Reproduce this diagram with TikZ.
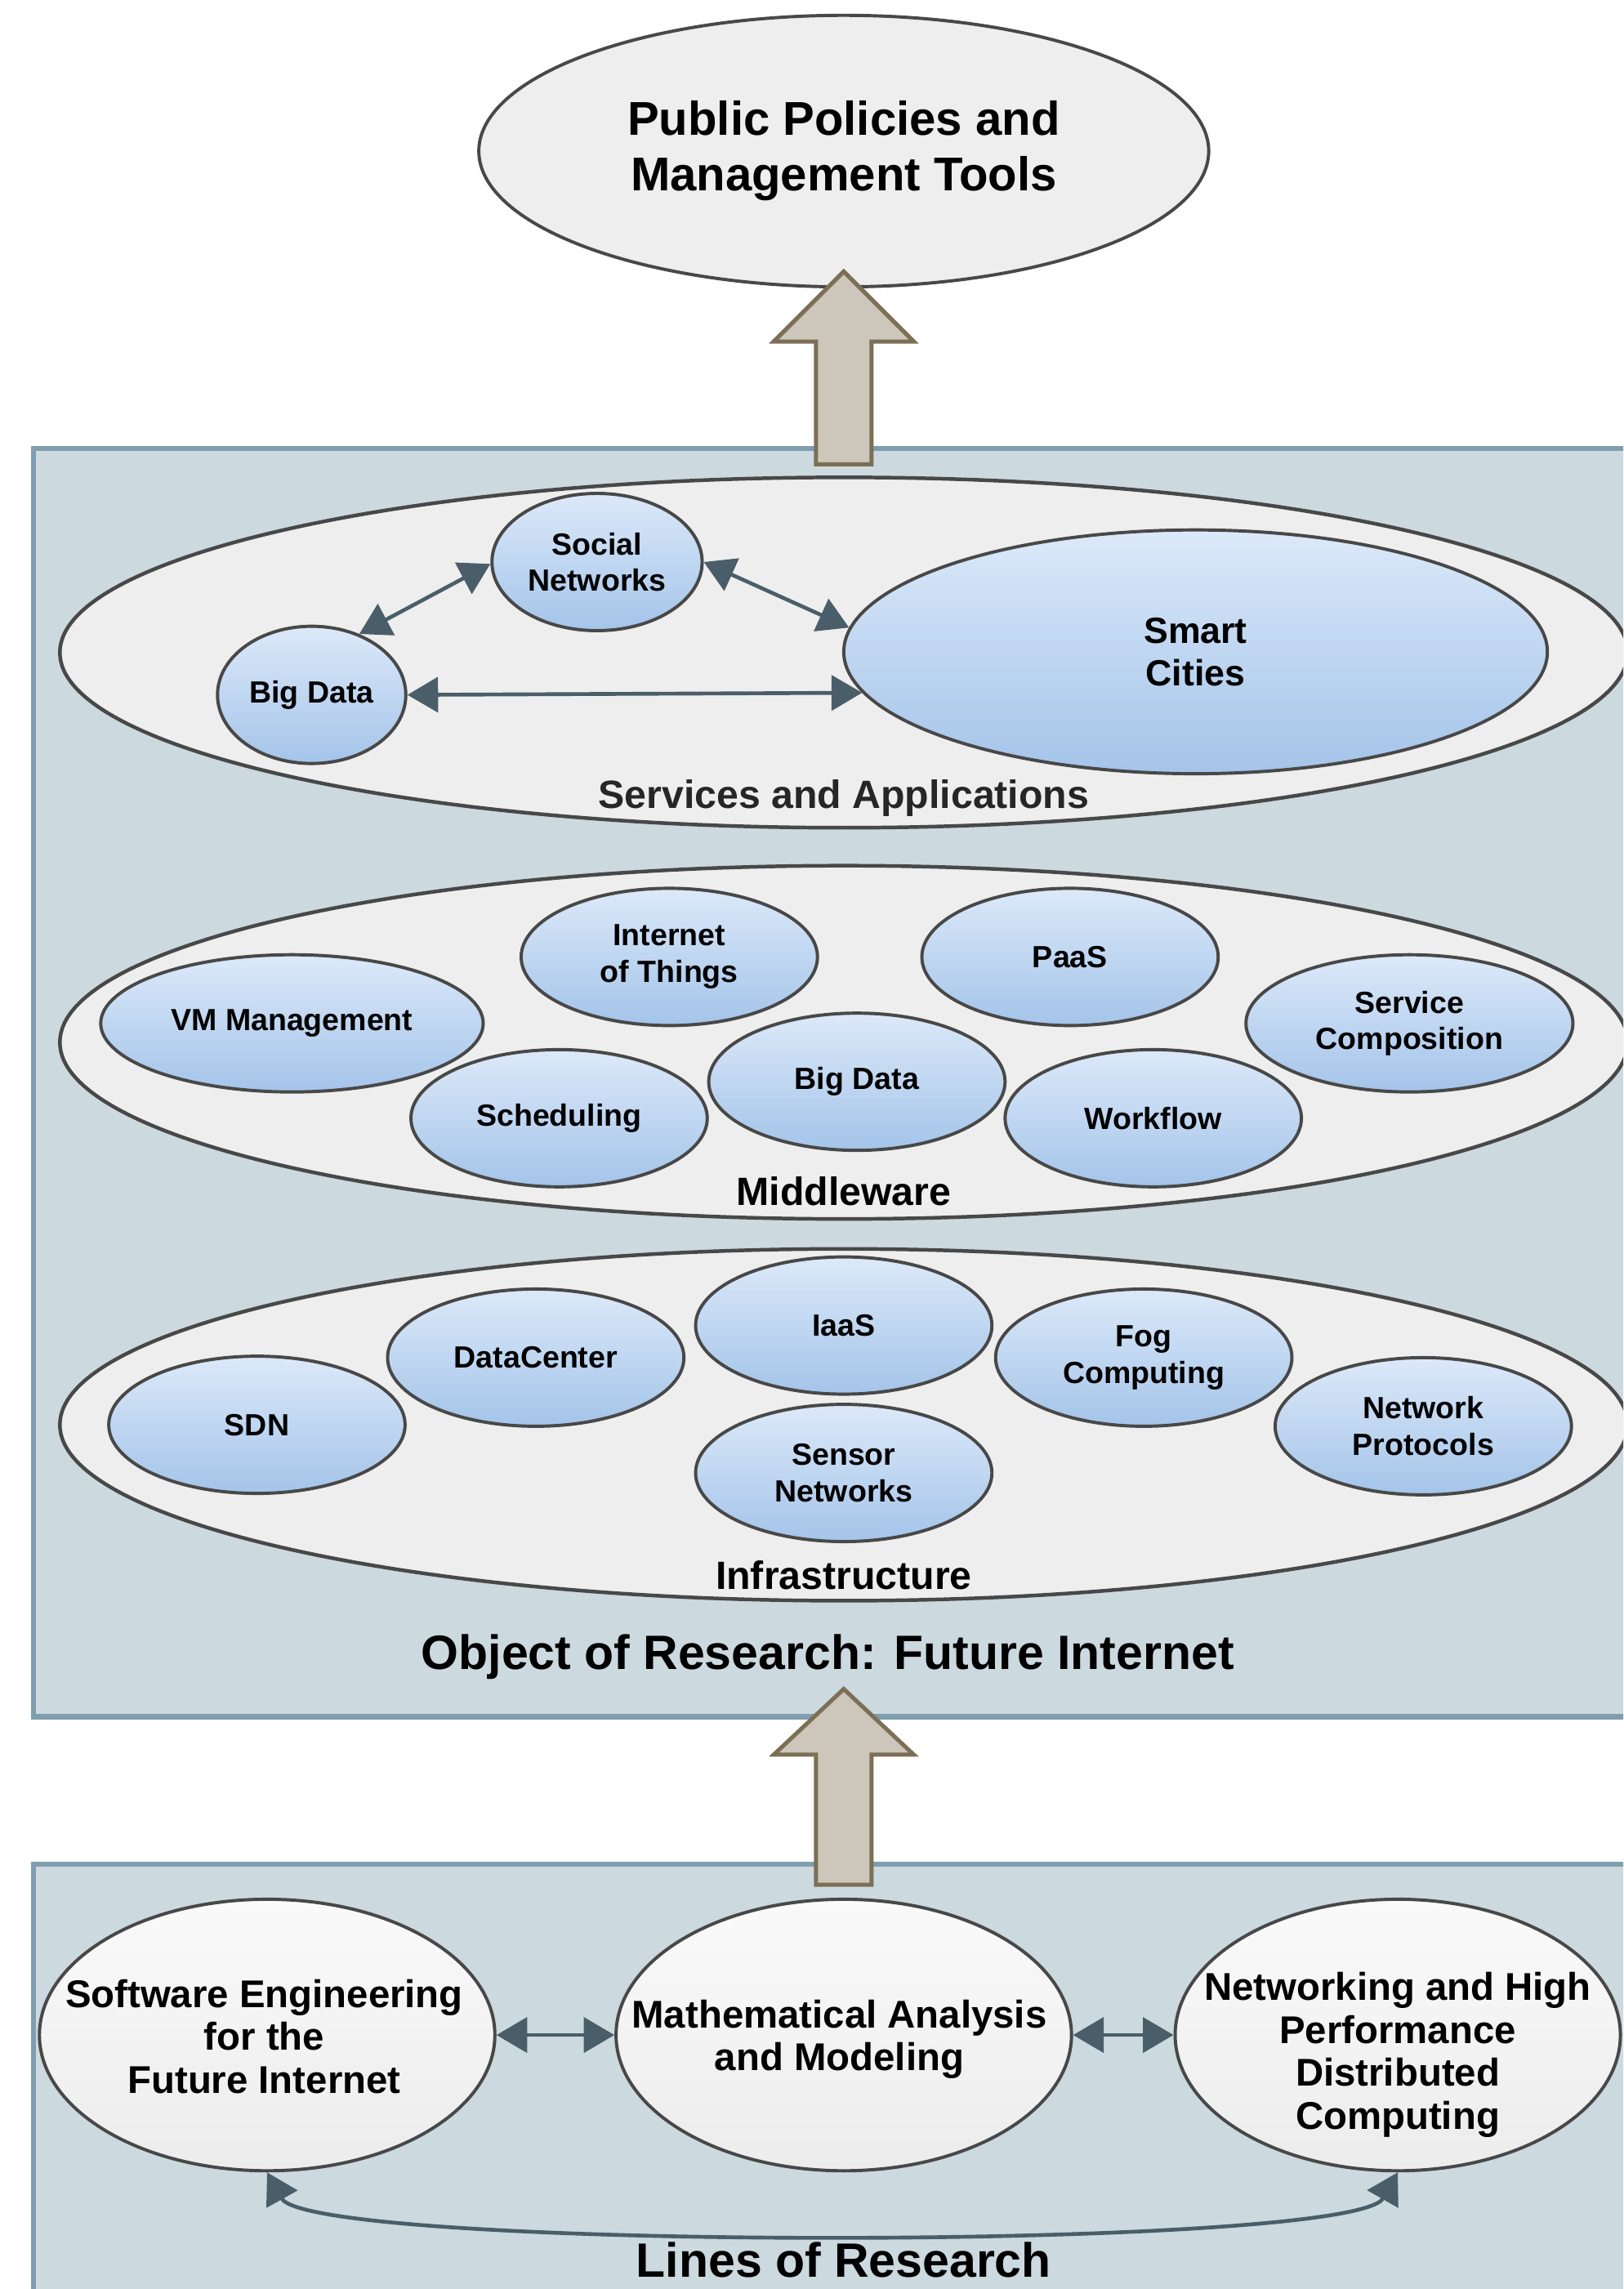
\documentclass[tikz,border=0pt]{standalone}
\usepackage{fontspec}
\setmainfont{Liberation Sans}
\usetikzlibrary{shapes.geometric,arrows.meta}
\definecolor{boxfill}{RGB}{204,217,223}
\definecolor{boxline}{RGB}{127,158,175}
\definecolor{layerfill}{RGB}{238,238,238}
\definecolor{edgecol}{RGB}{72,72,72}
\definecolor{bluetop}{RGB}{220,233,249}
\definecolor{bluebot}{RGB}{164,196,233}
\definecolor{whtop}{RGB}{250,250,250}
\definecolor{whbot}{RGB}{236,236,236}
\definecolor{conn}{RGB}{74,94,105}
\definecolor{bigfill}{RGB}{204,198,187}
\definecolor{bigline}{RGB}{123,111,85}
\begin{document}
\begin{tikzpicture}[x=1pt,y=-1pt,
  container/.style={draw=boxline, line width=3.4pt, fill=boxfill},
  topel/.style={ellipse, draw=edgecol, line width=2.2pt, fill=layerfill, inner sep=0pt, align=center,
    font=\bfseries\fontsize{32.5}{38}\selectfont},
  layer/.style={ellipse, draw=edgecol, line width=2.5pt, fill=layerfill, inner sep=0pt,
    minimum width=1074pt, minimum height=240pt},
  layerlbl/.style={inner sep=0pt, font=\bfseries\fontsize{27}{30}\selectfont},
  biglbl/.style={inner sep=0pt, font=\bfseries\fontsize{33}{38}\selectfont},
  item/.style={ellipse, draw=edgecol, line width=2.2pt, top color=bluetop, bottom color=bluebot,
    inner sep=0pt, minimum width=203pt, minimum height=94pt, align=center,
    font=\bfseries\fontsize{21}{25}\selectfont},
  lineel/.style={ellipse, draw=edgecol, line width=2.2pt, top color=whtop, bottom color=whbot,
    inner sep=0pt, minimum width=312pt, minimum height=186pt},
  linetxt/.style={inner sep=0pt, align=center, font=\bfseries\fontsize{26.5}{29.5}\selectfont},
  link/.style={draw=conn, line width=2.6pt, {Triangle[length=21pt,width=24pt]}-{Triangle[length=21pt,width=24pt]}},
  bigarrow/.style={draw=bigline, line width=2.8pt, fill=bigfill, line join=miter}
]
\useasboundingbox (0,0) rectangle (1112,1568);
\clip (0,0) rectangle (1112,1568);

% containers
\draw[container] (23,307) rectangle (1130,1176);
\draw[container] (23,1277) rectangle (1130,1590);

% top
\node[topel, minimum width=500pt, minimum height=186pt] (ppmt) at (578,103.5) {Public Policies and\\Management Tools};

% Services and Applications
\node[layer] (sa) at (578,447) {};
\node[layerlbl, text=black!85] (salbl) at (578,547) {Services and Applications};
\node[item, minimum width=144pt, minimum height=94pt] (sn) at (409,385) {Social\\Networks};
\node[item, minimum width=129pt, minimum height=94pt] (bda) at (213.5,476) {Big Data};
\node[item, minimum width=482pt, minimum height=167pt, font=\bfseries\fontsize{25}{29}\selectfont] (smart) at (819,446.5) {Smart\\Cities};

% Middleware
\node[layer, minimum height=242pt] (mw) at (578,714) {};
\node[layerlbl] (mwlbl) at (578,816) {Middleware};
\node[item, minimum width=262pt] (vm) at (200,701) {VM Management};
\node[item] (iot) at (458.5,655.5) {Internet\\of Things};
\node[item] (paas) at (733,655.5) {PaaS};
\node[item, minimum width=224pt] (sc) at (965.5,701) {Service\\Composition};
\node[item] (sched) at (383,766) {Scheduling};
\node[item] (bdb) at (587,741) {Big Data};
\node[item] (wf) at (790,766) {Workflow};

% Infrastructure
\node[layer, minimum height=241pt] (inf) at (578,976) {};
\node[layerlbl] (inflbl) at (578,1079) {Infrastructure};
\node[item] (sdn) at (176,976) {SDN};
\node[item] (dc) at (367,930) {DataCenter};
\node[item] (iaas) at (578,908) {IaaS};
\node[item] (fog) at (783.5,930) {Fog\\Computing};
\node[item] (np) at (975,977) {Network\\Protocols};
\node[item] (sens) at (578,1009) {Sensor\\Networks};

\node[biglbl] (obj) at (567,1135) {Object of Research: Future Internet};

% Lines of research
\node[lineel] (sw) at (183,1394) {};
\node[linetxt] (swtxt) at (181,1395) {Software Engineering\\for the\\Future Internet};
\node[lineel] (math) at (578,1394) {};
\node[linetxt] (mathtxt) at (575,1397) {Mathematical Analysis\\and Modeling};
\node[lineel, minimum width=305pt] (net) at (957.5,1394) {};
\node[linetxt] (nettxt) at (957.5,1407.5) {Networking and High\\Performance\\Distributed\\Computing};
\node[biglbl] (lor) at (578,1548) {Lines of Research};

% connectors
\draw[link] (bda.52) -- (sn.181);
\draw[link] (sn.0) -- (smart.176);
\draw[link] (bda.0) -- (smart.187);
\draw[link] (sw.east) -- (math.west);
\draw[link] (math.east) -- (net.west);
\draw[link] (sw.south) .. controls (213,1542) and (927,1542) .. (net.south);

% big arrows
\draw[bigarrow] (578,186) -- (626,234) -- (597,234) -- (597,318) -- (559,318) -- (559,234) -- (530,234) -- cycle;
\draw[bigarrow] (578,1157) -- (626,1202) -- (597,1202) -- (597,1291) -- (559,1291) -- (559,1202) -- (530,1202) -- cycle;
\end{tikzpicture}
\end{document}
